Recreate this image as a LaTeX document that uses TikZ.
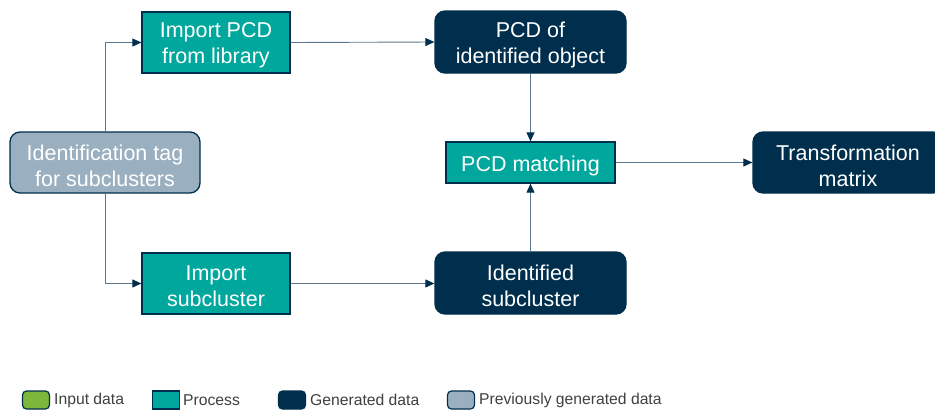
\documentclass[tikz,border=0pt]{standalone}
\usepackage{fontspec}
\setmainfont{Liberation Sans}
\usetikzlibrary{arrows.meta}
\definecolor{teal1}{RGB}{0,167,156}
\definecolor{navy1}{RGB}{0,47,78}
\definecolor{grey1}{RGB}{154,176,192}
\definecolor{green1}{RGB}{125,184,58}
\definecolor{line1}{RGB}{92,120,145}
\tikzset{
  box/.style={draw=navy1, line width=1.3pt, inner sep=0pt},
  procbox/.style={box, fill=teal1},
  genbox/.style={box, fill=navy1, rounded corners=10pt},
  prevbox/.style={box, fill=grey1, rounded corners=10pt},
  txt/.style={text=white, align=center, inner sep=0pt, font=\fontsize{21.5}{26}\selectfont},
  conn/.style={draw=line1, line width=0.9pt, -{Triangle[length=9pt,width=8pt,color=navy1]}},
  legbox/.style={draw=navy1, line width=1.2pt, minimum width=27pt, minimum height=18pt, inner sep=0pt},
  legtext/.style={anchor=west, inner sep=0pt, font=\fontsize{15.7}{18}\selectfont, text=black!75}
}
\begin{document}
\begin{tikzpicture}[x=1pt,y=-1pt]
\useasboundingbox (0,0) rectangle (935,410);
\clip (0,0) rectangle (935,410);
\fill[white] (0,0) rectangle (935,410);

\node[procbox, minimum width=148pt, minimum height=61pt] (imp) at (216,42.5) {};
\node[genbox, minimum width=191pt, minimum height=62pt] (pcdobj) at (530.5,42) {};
\node[prevbox, minimum width=190pt, minimum height=61pt] (tag) at (105,162.5) {};
\node[procbox, minimum width=169pt, minimum height=41pt] (match) at (530.5,162.5) {};
\node[genbox, minimum width=190pt, minimum height=61pt] (tm) at (848,162.5) {};
\node[procbox, minimum width=148pt, minimum height=61pt] (isub) at (216,283.5) {};
\node[genbox, minimum width=191pt, minimum height=62pt] (idsub) at (530.5,283) {};

\node[txt] (imp-t) at ([yshift=-3pt]imp.center) {Import PCD\\from library};
\node[txt] (pcdobj-t) at ([yshift=-3pt]pcdobj.center) {PCD of\\identified object};
\node[txt] (tag-t) at ([yshift=-3pt]tag.center) {Identification tag\\for subclusters};
\node[txt] (match-t) at ([yshift=-3pt]match.center) {PCD matching};
\node[txt] (tm-t) at ([yshift=-3pt]tm.center) {Transformation\\matrix};
\node[txt] (isub-t) at ([yshift=-3pt]isub.center) {Import\\subcluster};
\node[txt] (idsub-t) at ([yshift=-3pt]idsub.center) {Identified\\subcluster};

\draw[conn] (tag.north) |- (imp.west);
\draw[conn] (tag.south) |- (isub.west);
\draw[conn] (imp.east) -- (pcdobj.west);
\draw[conn] (isub.east) -- (idsub.west |- isub.east);
\draw[conn] (pcdobj.south) -- (match.north);
\draw[conn] (idsub.north) -- (match.south);
\draw[conn] (match.east) -- (tm.west |- match.east);

% legend
\node[legbox, fill=green1, rounded corners=4pt] (l1) at (36,400) {};
\node[legtext] (t1) at (54,400) {Input data};
\node[legbox, fill=teal1] (l2) at (166,400) {};
\node[legtext] (t2) at (183,400) {Process};
\node[legbox, fill=navy1, rounded corners=4pt] (l3) at (292,400) {};
\node[legtext] (t3) at (310,400) {Generated data};
\node[legbox, fill=grey1, rounded corners=4pt] (l4) at (461,400) {};
\node[legtext] (t4) at (479,400) {Previously generated data};
\end{tikzpicture}
\end{document}
